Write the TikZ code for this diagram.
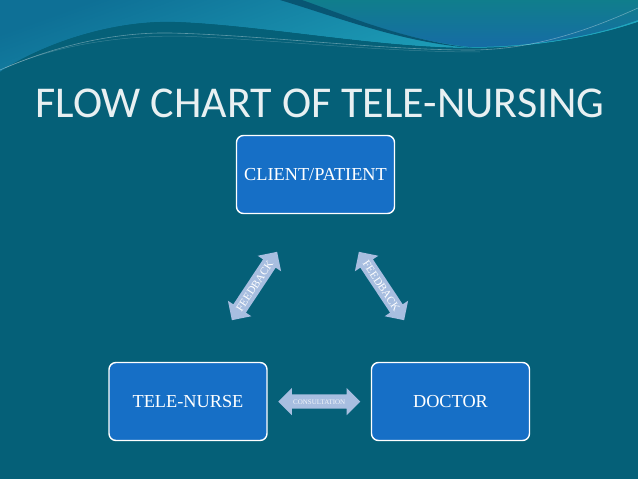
\documentclass[tikz,border=0pt]{standalone}
\usepackage{fontspec}
\setmainfont{Liberation Serif}
\newfontfamily\titlefont{Carlito}
\usetikzlibrary{shapes.arrows,calc}
\definecolor{bgc}{RGB}{5,96,120}
\definecolor{boxc}{RGB}{22,111,198}
\definecolor{arrc}{RGB}{168,190,224}
\definecolor{titc}{RGB}{232,240,242}
\definecolor{cyanw}{RGB}{34,172,194}
\definecolor{bluew}{RGB}{14,112,150}
\definecolor{tealw}{RGB}{16,126,140}
\definecolor{bluew2}{RGB}{22,108,165}
\definecolor{darkw}{RGB}{8,86,115}
\tikzset{
  boxnode/.style={draw=white, line width=1.4pt, fill=boxc, rounded corners=7pt,
    minimum width=158pt, minimum height=78pt, text=white, font=\fontsize{18.3}{20}\selectfont, inner sep=0pt},
  dblarrow/.style={shape=double arrow, fill=arrc, double arrow head extend=6.5pt,
    minimum height=82pt, inner xsep=0pt, inner ysep=3.6pt, text height=7.5pt, text depth=0pt,
    text=white, double arrow tip angle=90},
}
\begin{document}
\begin{tikzpicture}[x=1pt,y=-1pt]
\useasboundingbox (0,0) rectangle (638,479);
\fill[bgc] (0,0) rectangle (638,479);
% top wave area
\shade[top color=bluew, bottom color=cyanw, shading angle=20]
  (0,0) -- (0,72) .. controls (40,45) and (110,20) .. (175,22)
  .. controls (260,25) and (380,48) .. (470,48)
  .. controls (540,48) and (600,35) .. (638,22) -- (638,0) -- cycle;
\shade[top color=tealw, bottom color=bluew2]
  (290,0) .. controls (345,16) and (405,40) .. (470,47)
  .. controls (540,47) and (600,34) .. (638,20) -- (638,0) -- cycle;
\fill[darkw] (280,0) .. controls (340,18) and (400,42) .. (472,48)
  .. controls (400,39) and (345,15) .. (302,0) -- cycle;
\fill[bgc] (0,72) .. controls (40,45) and (110,20) .. (175,22)
  .. controls (260,25) and (380,48) .. (470,48)
  .. controls (540,48) and (600,35) .. (638,22) -- (638,60) -- (0,90) -- cycle;
\draw[white, opacity=0.35, line width=0.6pt]
  (0,70) .. controls (50,48) and (110,32) .. (170,33)
  .. controls (260,35) and (380,50) .. (470,50)
  .. controls (540,50) and (600,25) .. (638,8);
\draw[white, opacity=0.2, line width=0.5pt]
  (5,68) .. controls (60,44) and (120,36) .. (180,36)
  .. controls (280,40) and (380,52) .. (480,52);
% title
\node[text=titc, font=\titlefont\fontsize{44}{48}\selectfont, inner sep=0pt] (title) at (320,103) {FLOW CHART OF TELE-NURSING};
% boxes
\node[boxnode] (client) at (315.5,174.5) {CLIENT/PATIENT};
\node[boxnode] (nurse) at (188,401.5) {TELE-NURSE};
\node[boxnode] (doctor) at (450.5,401.5) {DOCTOR};
% arrows
\node[dblarrow, rotate=56.5, font=\fontsize{11}{12}\selectfont] (fbl) at (254.5,286) {FEEDBACK};
\node[dblarrow, rotate=-56.5, font=\fontsize{11}{12}\selectfont] (fbr) at (381.5,286) {FEEDBACK};
\node[dblarrow, text height=5pt, inner ysep=4.5pt, font=\fontsize{7}{8}\selectfont, text=white!85!arrc] (cons) at ($(nurse.east)!0.5!(doctor.west)$) {CONSULTATION};
\end{tikzpicture}
\end{document}
